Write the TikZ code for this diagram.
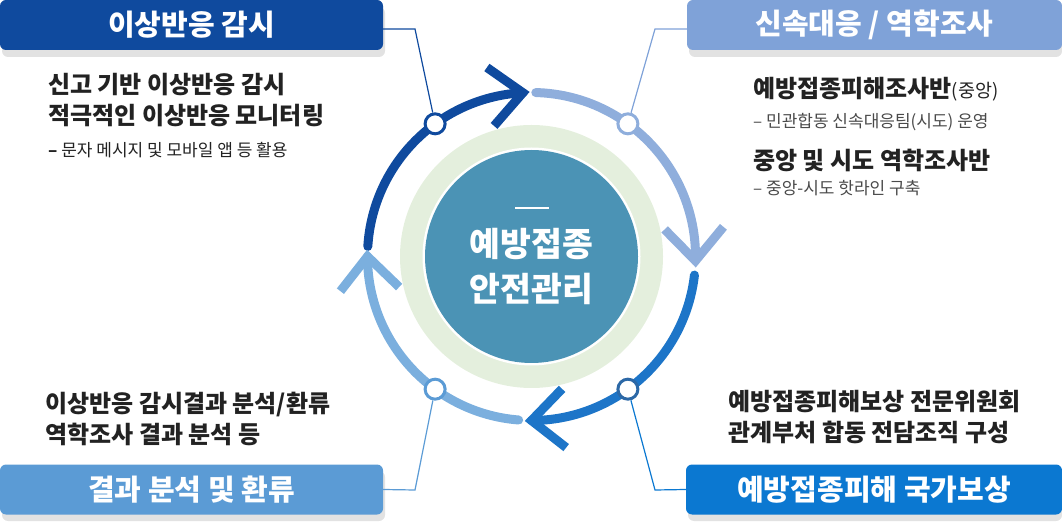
\documentclass[tikz,border=0pt]{standalone}
\usepackage{fontspec}
\setmainfont{Noto Sans CJK KR}
\usetikzlibrary{calc}
\definecolor{cDark}{HTML}{0F4A9E}
\definecolor{cTRbox}{HTML}{7FA2D8}
\definecolor{cTRarc}{HTML}{8FAEDC}
\definecolor{cBRbox}{HTML}{0B78D1}
\definecolor{cBRarc}{HTML}{1D75C8}
\definecolor{cBRdot}{HTML}{2C68A6}
\definecolor{cBLbox}{HTML}{5B9BD5}
\definecolor{cBLarc}{HTML}{7BAFDE}
\definecolor{cGreen}{HTML}{E4EFDD}
\definecolor{cCore}{HTML}{4B93B5}
\definecolor{cShadow}{HTML}{E2E2E2}
\definecolor{cText}{HTML}{222222}
\definecolor{cSub}{HTML}{4A4A4A}
\newcommand\myfs[1]{\fontsize{#1}{#1}\selectfont}
\begin{document}
\begin{tikzpicture}[x=1pt,y=1pt,
  titlebox/.style={rounded corners=6pt, inner sep=0pt, minimum height=50pt,
    text=white, font=\myfs{29}\bfseries},
  shadowbox/.style={fill=cShadow, rounded corners=6pt},
  body/.style={inner sep=0pt, anchor=base west, text=cText, font=\myfs{24}\bfseries},
  sub/.style={inner sep=0pt, anchor=base west, text=cSub, font=\myfs{17}},
  seg/.style={line width=9pt, line cap=round},
  chev/.style={line width=9pt, line cap=butt, line join=miter},
  dot/.style={circle, fill=white, line width=3pt, minimum size=20pt, inner sep=0pt},
  lead/.style={line width=1.2pt}]
\useasboundingbox (0,0) rectangle (1062,522);
\coordinate (C) at (531.5,265.5);

% shadows
\fill[shadowbox] (2,465) rectangle (385,515);
\fill[shadowbox] (689,465) rectangle (1062,515);
\fill[shadowbox] (2,1) rectangle (385,51);
\fill[shadowbox] (688,1) rectangle (1062,51);

% title boxes
\node[titlebox, fill=cDark, minimum width=383pt] (tlbox) at (191.5,497) {이상반응 감시};
\node[titlebox, fill=cTRbox, minimum width=375pt] (trbox) at (874.5,497) {신속대응 / 역학조사};
\node[titlebox, fill=cBLbox, minimum width=383pt] (blbox) at (191.5,32.5) {결과 분석 및 환류};
\node[titlebox, fill=cBRbox, minimum width=376pt] (brbox) at (874,32.5) {예방접종피해 국가보상};

% center
\fill[cGreen] (C) circle[radius=131.5];
\fill[white] (C) circle[radius=109];
\node[circle, fill=cCore, minimum size=213pt, inner sep=0pt] (core) at (C) {};
\node[inner sep=0pt, anchor=base, text=white, font=\myfs{33.5}\bfseries] (ct1) at (531.5,265.8) {예방접종};
\node[inner sep=0pt, anchor=base, text=white, font=\myfs{33.5}\bfseries] (ct2) at (531.5,220.8) {안전관리};
\coordinate (ul) at (515,314);
\coordinate (ur) at (549,314);
\draw[white, line width=1.3pt] (ul) -- (ur);

% arc segments
\draw[seg, cDark] ([shift={(176.5:164)}]C) arc[start angle=176.5, end angle=93, radius=164];
\draw[seg, cTRarc] ([shift={(88.5:164)}]C) arc[start angle=88.5, end angle=-1.5, radius=164];
\draw[seg, cBRarc] ([shift={(-6.5:164)}]C) arc[start angle=-6.5, end angle=-90, radius=164];
\draw[seg, cBLarc] ([shift={(-94.5:164)}]C) arc[start angle=-94.5, end angle=-180, radius=164];

% chevrons
\coordinate (t1) at ([shift={(93:164)}]C);
\coordinate (t2) at ([shift={(-1.5:164)}]C);
\coordinate (t3) at ([shift={(-90:164)}]C);
\coordinate (t4) at ([shift={(180:164)}]C);
\draw[chev, cDark] ([shift={(229:44)}]t1) -- (t1) -- ([shift={(145:44)}]t1);
\draw[chev, cTRarc] ([shift={(134.5:44)}]t2) -- (t2) -- ([shift={(50.5:44)}]t2);
\draw[chev, cBRarc] ([shift={(46:44)}]t3) -- (t3) -- ([shift={(-38:44)}]t3);
\draw[chev, cBLarc] ([shift={(316:44)}]t4) -- (t4) -- ([shift={(232:44)}]t4);

% dots
\node[dot, draw=cDark] (c1) at ([shift={(126:164)}]C) {};
\node[dot, draw=cTRarc] (c2) at ([shift={(54:164)}]C) {};
\node[dot, draw=cBRdot] (c3) at ([shift={(-54:164)}]C) {};
\node[dot, draw=cBLbox] (c4) at ([shift={(234:164)}]C) {};

% leaders
\coordinate (k1) at (415,493);
\coordinate (k2) at (655,493);
\coordinate (k3) at (415,32);
\coordinate (k4) at (655,32);
\draw[lead, cDark] ([yshift=-4pt]tlbox.east) -- (k1) -- (c1);
\draw[lead, cTRbox] ([yshift=-4pt]trbox.west) -- (k2) -- (c2);
\draw[lead, cBLbox] (blbox.east) -- (k3) -- (c4);
\draw[lead, cBRbox] (brbox.west) -- (k4) -- (c3);

% texts top-left
\node[body] (tl1) at (48,428.4) {신고 기반 이상반응 감시};
\node[body] (tl2) at (48,397.4) {적극적인 이상반응 모니터링};
\node[sub, text=cText] (tl3) at (48,365) {{\bfseries –} 문자 메시지 및 모바일 앱 등 활용};

% texts top-right
\node[body] (tr1) at (753,424.4) {예방접종피해조사반{\mdseries\myfs{18.5}(중앙)}};
\node[sub] (tr2) at (753,394) {– 민관합동 신속대응팀(시도) 운영};
\node[body] (tr3) at (753,352.9) {중앙 및 시도 역학조사반};
\node[sub] (tr4) at (753,327) {– 중앙-시도 핫라인 구축};

% texts bottom-left
\node[body] (bl1) at (45,109.4) {이상반응 감시결과 분석/환류};
\node[body] (bl2) at (45,78.4) {역학조사 결과 분석 등};

% texts bottom-right
\node[body] (br1) at (728,111.9) {예방접종피해보상 전문위원회};
\node[body] (br2) at (728,80.4) {관계부처 합동 전담조직 구성};
\end{tikzpicture}
\end{document}
